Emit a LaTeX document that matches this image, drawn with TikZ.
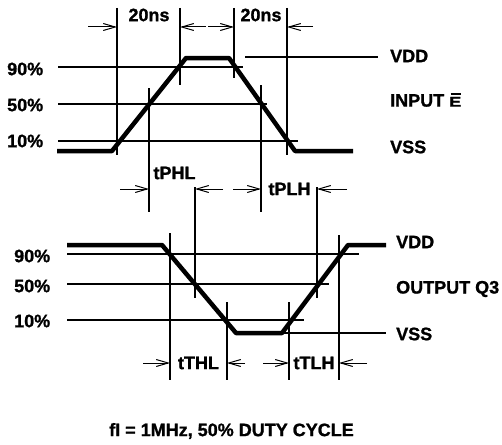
\documentclass[tikz,border=0pt]{standalone}
\usepackage{fontspec}
\setmainfont{Liberation Sans}
\newfontfamily\heavy{Liberation Sans Bold}[FakeBold=1.2]
\usetikzlibrary{arrows.meta}
\begin{document}
\begin{tikzpicture}[x=1pt,y=-1pt,
  guide/.style={line width=1.1pt},
  wave/.style={line width=4.5pt,line join=round},
  dim/.style={line width=1pt,-{Straight Barb[length=12pt,width=7pt,line width=1pt]}},
  lbl/.style={font=\heavy\fontsize{18}{20}\selectfont,inner sep=0pt,anchor=west},
  clbl/.style={font=\heavy\fontsize{18}{20}\selectfont,inner sep=0pt}]
\useasboundingbox (0,0) rectangle (502,444);

% ---------- top (input) ----------
\draw[guide] (58,67) -- (243,67);
\draw[guide] (58,104) -- (267,104);
\draw[guide] (58,141) -- (298,141);
\draw[guide] (245,57) -- (378,57);

\draw[guide] (117,8) -- (117,155);
\draw[guide] (180,8) -- (180,85);
\draw[guide] (149,88) -- (149,212);
\draw[guide] (234,8) -- (234,78);
\draw[guide] (261,85) -- (261,212);
\draw[guide] (287,8) -- (287,155);

\draw[wave] (57,151) -- (112,151) -- (186,58) -- (229,58) -- (295,151) -- (353,151);

\coordinate (a1) at (88,27);  \coordinate (b1) at (117,27);
\coordinate (a2) at (206,27); \coordinate (b2) at (180,27);
\coordinate (a3) at (208,27); \coordinate (b3) at (234,27);
\coordinate (a4) at (313,27); \coordinate (b4) at (287,27);
\draw[dim] (a1) -- (b1);
\draw[dim] (a2) -- (b2);
\draw[dim] (a3) -- (b3);
\draw[dim] (a4) -- (b4);

\node[clbl] (ns1) at (149,15) {20ns};
\node[clbl] (ns2) at (261,15) {20ns};

\node[lbl] (p90a) at (7,69) {90\%};
\node[lbl] (p50a) at (7,105) {50\%};
\node[lbl] (p10a) at (7,141) {10\%};

\node[lbl] (vdda) at (390,56) {VDD};
\node[lbl] (inp) at (390,100) {INPUT \makebox[0pt][l]{\hspace{1.4pt}\raisebox{11.6pt}{\rule{10pt}{1.8pt}}}\scalebox{1}[0.78]{E}};
\node[lbl] (vssa) at (390,147) {VSS};

% ---------- middle propagation arrows ----------
\coordinate (c1) at (120,189); \coordinate (d1) at (149,189);
\coordinate (c2) at (223,189); \coordinate (d2) at (195,189);
\coordinate (c3) at (233,189); \coordinate (d3) at (261,189);
\coordinate (c4) at (347,189); \coordinate (d4) at (317,189);
\draw[dim] (c1) -- (d1);
\draw[dim] (c2) -- (d2);
\draw[dim] (c3) -- (d3);
\draw[dim] (c4) -- (d4);
\node[clbl] (tphl) at (174.5,173) {tPHL};
\node[clbl] (tplh) at (289.5,189) {tPLH};

% ---------- bottom (output) ----------
\draw[guide] (67,254) -- (359,254);
\draw[guide] (67,284) -- (329,284);
\draw[guide] (67,320) -- (304,320);
\draw[guide] (283,333) -- (386,333);

\draw[guide] (195,187) -- (195,298);
\draw[guide] (317,187) -- (317,298);
\draw[guide] (170,233) -- (170,380);
\draw[guide] (227,302) -- (227,380);
\draw[guide] (289,302) -- (289,380);
\draw[guide] (339,235) -- (339,380);

\draw[wave] (67,245) -- (162,245) -- (236,333) -- (282,333) -- (348,245) -- (386,245);

\coordinate (e1) at (143,363); \coordinate (f1) at (170,363);
\coordinate (e2) at (245,363); \coordinate (f2) at (227,363);
\coordinate (e3) at (263,363); \coordinate (f3) at (289,363);
\coordinate (e4) at (367,363); \coordinate (f4) at (339,363);
\draw[dim] (e1) -- (f1);
\draw[dim] (e2) -- (f2);
\draw[dim] (e3) -- (f3);
\draw[dim] (e4) -- (f4);
\node[clbl] (tthl) at (198.5,363) {tTHL};
\node[clbl] (ttlh) at (314,363) {tTLH};

\node[lbl] (p90b) at (14,256) {90\%};
\node[lbl] (p50b) at (14,286) {50\%};
\node[lbl] (p10b) at (14,321) {10\%};

\node[lbl] (vddb) at (396,242) {VDD};
\node[lbl] (outq) at (396,289) {OUTPUT Q3};
\node[lbl] (vssb) at (396,334) {VSS};

\node[clbl] (foot) at (231.5,431) {fI = 1MHz, 50\% DUTY CYCLE};
\end{tikzpicture}
\end{document}
